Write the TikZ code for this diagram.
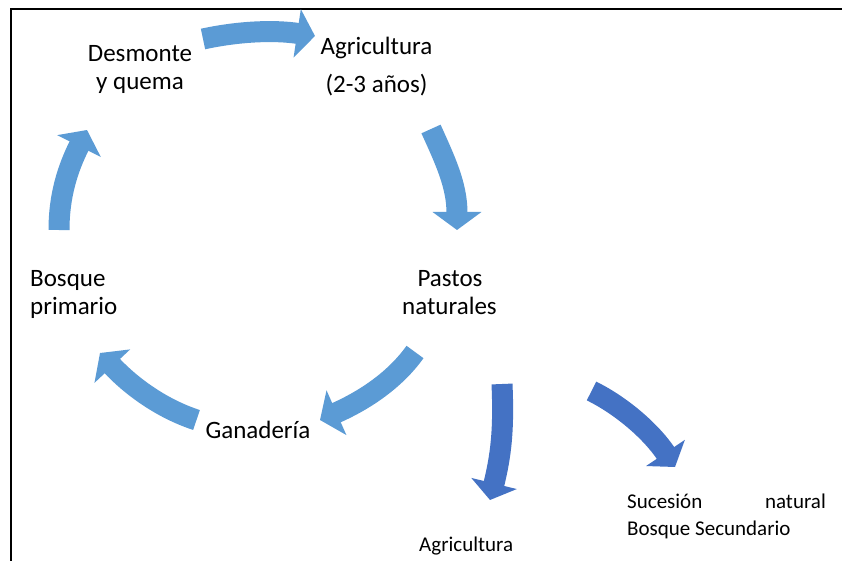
\documentclass[tikz,border=0pt]{standalone}
\usepackage{fontspec}
\setmainfont{Carlito}
\usetikzlibrary{arrows.meta}
\definecolor{cyc}{HTML}{5B9BD5}
\definecolor{dk}{HTML}{4472C4}
\begin{document}
\begin{tikzpicture}[x=1pt,y=-1pt,
  lbl/.style={font=\fontsize{25}{28}\selectfont, inner sep=0pt, anchor=base},
  sml/.style={font=\fontsize{21}{25}\selectfont, inner sep=0pt},
  cycarrow/.style={draw=cyc, line width=21pt, -{Triangle[length=18pt,width=48pt]}},
  dkarrow/.style={draw=dk, line width=21pt, -{Triangle[length=17pt,width=46pt]}},
  frame/.style={draw=black, line width=2pt}]
\useasboundingbox (0,0) rectangle (842,561);
\fill[white] (0,0) rectangle (842,561);
\draw[frame] (842,9.5) -- (10.5,9.5) -- (10.5,561);

% labels
\node[lbl] (desm1) at (140,62) {Desmonte};
\node[lbl] (desm2) at (140,90) {y quema};
\node[lbl] (agr1) at (376.5,55) {Agricultura};
\node[lbl] (agr2) at (376.5,93) {(2-3 años)};
\node[lbl] (past1) at (450,286) {Pastos};
\node[lbl] (past2) at (449.5,314) {naturales};
\node[lbl,anchor=base west] (bos1) at (30,286) {Bosque};
\node[lbl,anchor=base west] (bos2) at (30,314) {primario};
\node[lbl] (gan) at (258,438) {Ganadería};
\node[sml,anchor=base west] (agrb) at (419,551) {Agricultura};
\node[sml,anchor=base west] (suc) at (627,508) {Sucesión};
\node[sml,anchor=base east] (nat) at (826,508) {natural};
\node[sml,anchor=base west] (bsec) at (627,535) {Bosque Secundario};

% arrow end points
\coordinate (a1s) at (203,39);  \coordinate (a1e) at (315,36);
\coordinate (a2s) at (431,129); \coordinate (a2e) at (457,230);
\coordinate (a3s) at (415,352); \coordinate (a3e) at (320,420);
\coordinate (a4s) at (196.5,420); \coordinate (a4e) at (100,353);
\coordinate (a5s) at (59,230);  \coordinate (a5e) at (87,130);
\coordinate (a6s) at (502,384); \coordinate (a6e) at (490,500);
\coordinate (a7s) at (591.5,391); \coordinate (a7e) at (675,467);

\draw[cycarrow] (a1s) .. controls (240,31) and (275,30) .. (a1e);
\draw[cycarrow] (a2s) .. controls (445,160) and (457,185) .. (a2e);
\draw[cycarrow] (a3s) .. controls (395,380) and (365,400) .. (a3e);
\draw[cycarrow] (a4s) .. controls (160,408) and (130,385) .. (a4e);
\draw[cycarrow] (a5s) .. controls (59,195) and (68,168) .. (a5e);
\draw[dkarrow] (a6s) .. controls (504,430) and (501,455) .. (a6e);
\draw[dkarrow] (a7s) .. controls (620,405) and (650,430) .. (a7e);
\end{tikzpicture}
\end{document}
